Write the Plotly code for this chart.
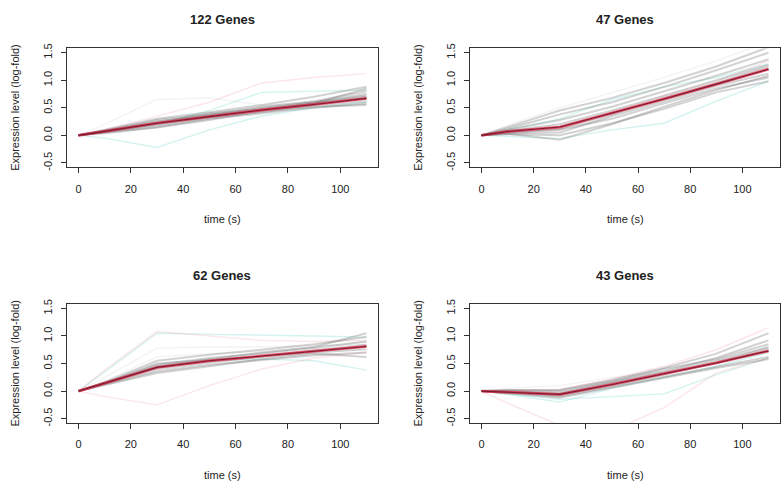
import plotly.graph_objects as go

# Sampling times (s)
times = [0, 10, 30, 50, 70, 90, 110]

# Cluster sizes shown in panel titles
titles = ["122 Genes", "47 Genes", "62 Genes", "43 Genes"]

# --- Cluster 1 (122 genes): member profiles and cluster mean ---
c1_mean = [0, 0.07, 0.22, 0.34, 0.46, 0.56, 0.67]
c1_gray = [
    [0, 0.10, 0.30, 0.42, 0.55, 0.70, 0.88],
    [0, 0.05, 0.15, 0.30, 0.40, 0.50, 0.58],
    [0, 0.08, 0.28, 0.38, 0.52, 0.62, 0.80],
    [0, 0.06, 0.18, 0.32, 0.42, 0.54, 0.62],
    [0, 0.09, 0.25, 0.36, 0.50, 0.60, 0.75],
    [0, 0.04, 0.14, 0.28, 0.44, 0.52, 0.55],
    [0, 0.07, 0.24, 0.40, 0.48, 0.60, 0.72],
    [0, 0.08, 0.20, 0.33, 0.47, 0.58, 0.85],
    [0, 0.06, 0.22, 0.37, 0.45, 0.57, 0.70],
]
c1_cyan = [
    [0, 0.06, 0.20, 0.45, 0.78, 0.80, 0.82],
    [0, -0.05, -0.22, 0.10, 0.35, 0.50, 0.60],
]
c1_pink = [
    [0, 0.10, 0.35, 0.60, 0.95, 1.05, 1.12],
]
c1_faint = [
    [0, 0.20, 0.65, 0.68, 0.55, 0.60, 0.70],
]

# --- Cluster 2 (47 genes) ---
c2_mean = [0, 0.07, 0.15, 0.40, 0.66, 0.93, 1.20]
c2_gray = [
    [0, 0.15, 0.45, 0.68, 0.95, 1.25, 1.60],
    [0, 0.12, 0.38, 0.60, 0.88, 1.18, 1.50],
    [0, 0.10, 0.28, 0.52, 0.80, 1.08, 1.38],
    [0, 0.05, 0.10, 0.30, 0.58, 0.85, 1.05],
    [0, 0.02, 0.00, 0.22, 0.48, 0.78, 0.98],
    [0, 0.08, 0.20, 0.45, 0.72, 1.00, 1.28],
    [0, 0.04, 0.05, 0.35, 0.62, 0.90, 1.12],
    [0, 0.06, 0.12, 0.38, 0.68, 0.95, 1.25],
    [0, 0.03, -0.08, 0.20, 0.52, 0.82, 1.08],
]
c2_cyan = [
    [0, 0.10, 0.30, 0.65, 0.88, 1.05, 1.30],
    [0, -0.02, -0.06, 0.10, 0.22, 0.62, 0.98],
]
c2_pink = [
    [0, 0.05, 0.10, 0.42, 0.72, 0.98, 1.35],
]
c2_faint = [
    [0, 0.18, 0.50, 0.78, 1.05, 1.35, 1.70],
]

# --- Cluster 3 (62 genes) ---
c3_mean = [0, 0.14, 0.43, 0.55, 0.64, 0.72, 0.81]
c3_gray = [
    [0, 0.16, 0.55, 0.66, 0.75, 0.85, 0.98],
    [0, 0.12, 0.36, 0.48, 0.56, 0.65, 0.70],
    [0, 0.15, 0.48, 0.60, 0.68, 0.78, 0.90],
    [0, 0.11, 0.33, 0.45, 0.58, 0.68, 0.62],
    [0, 0.13, 0.40, 0.52, 0.62, 0.70, 0.76],
    [0, 0.14, 0.45, 0.58, 0.70, 0.80, 1.05],
    [0, 0.15, 0.50, 0.56, 0.63, 0.74, 0.84],
]
c3_cyan = [
    [0, 0.35, 1.05, 1.03, 1.02, 1.00, 0.98],
    [0, 0.14, 0.45, 0.55, 0.58, 0.55, 0.38],
]
c3_pink = [
    [0, 0.38, 1.08, 1.00, 0.92, 0.90, 0.92],
    [0, -0.10, -0.25, 0.10, 0.40, 0.60, 0.70],
]
c3_faint = [
    [0, 0.25, 0.78, 0.80, 0.80, 0.82, 0.85],
    [0, 0.18, 0.62, 0.68, 0.72, 0.80, 0.90],
]

# --- Cluster 4 (43 genes) ---
c4_mean = [0, -0.02, -0.06, 0.12, 0.31, 0.51, 0.73]
c4_gray = [
    [0, 0.02, 0.02, 0.20, 0.42, 0.68, 1.05],
    [0, 0.00, -0.03, 0.16, 0.36, 0.60, 0.92],
    [0, -0.03, -0.10, 0.08, 0.26, 0.45, 0.62],
    [0, -0.04, -0.12, 0.06, 0.24, 0.42, 0.58],
    [0, 0.01, 0.00, 0.18, 0.40, 0.58, 0.85],
    [0, -0.02, -0.08, 0.10, 0.30, 0.52, 0.78],
    [0, -0.01, -0.05, 0.14, 0.34, 0.55, 0.80],
]
c4_cyan = [
    [0, -0.05, -0.15, -0.10, -0.05, 0.30, 0.60],
    [0, -0.06, -0.20, 0.05, 0.25, 0.45, 0.70],
]
c4_pink = [
    [0, -0.22, -0.62, -0.72, -0.30, 0.33, 0.60],
    [0, 0.02, 0.03, 0.22, 0.45, 0.75, 1.15],
]
c4_faint = [
    [0, 0.05, 0.10, 0.25, 0.35, 0.50, 0.70],
]

clusters = [
    (c1_mean, c1_gray, c1_cyan, c1_pink, c1_faint),
    (c2_mean, c2_gray, c2_cyan, c2_pink, c2_faint),
    (c3_mean, c3_gray, c3_cyan, c3_pink, c3_faint),
    (c4_mean, c4_gray, c4_cyan, c4_pink, c4_faint),
]

x_ticks = [0, 20, 40, 60, 80, 100]
y_ticks = [-0.5, 0.0, 0.5, 1.0, 1.5]
y_tick_text = ["-0.5", "0.0", "0.5", "1.0", "1.5"]

W, H = 783, 489
# plot boxes in pixels: (left, right, top, bottom)
boxes = [(67, 378, 44, 165), (470, 780, 44, 165),
         (67, 378, 304, 425), (470, 780, 304, 425)]

FONT = "Liberation Sans, Arial, sans-serif"
INK = "#222222"

fig = go.Figure()
layout = dict(
    width=W, height=H,
    margin=dict(l=0, r=0, t=0, b=0),
    paper_bgcolor="white", plot_bgcolor="white",
    showlegend=False,
    font=dict(family=FONT, size=11, color=INK),
)
annotations = []

for i, (mean, gray, cyan, pink, faint) in enumerate(clusters):
    n = i + 1
    xa = "x" if n == 1 else f"x{n}"
    ya = "y" if n == 1 else f"y{n}"
    l, r, t, b = boxes[i]

    def add(ys, color, width):
        fig.add_trace(go.Scatter(x=times, y=ys, mode="lines", xaxis=xa, yaxis=ya,
                                 line=dict(color=color, width=width),
                                 hoverinfo="skip"))

    for ys in faint:
        add(ys, "rgba(170,170,170,0.14)", 1.3)
    for ys in cyan:
        add(ys, "rgba(110,215,205,0.30)", 1.4)
    for ys in pink:
        add(ys, "rgba(240,140,160,0.22)", 1.4)
    for ys in gray:
        add(ys, "rgba(105,105,105,0.30)", 2.0)
    add(mean, "rgba(225,40,75,0.80)", 2.8)
    add(mean, "#7a1c2c", 1.1)

    dom_x = [l / W, r / W]
    dom_y = [1 - b / H, 1 - t / H]
    axis_common = dict(showline=True, mirror=True, linecolor="#333333", linewidth=1,
                       ticks="outside", ticklen=5, tickcolor="#333333",
                       showgrid=False, zeroline=False,
                       tickfont=dict(family=FONT, size=11, color=INK))
    layout["xaxis" if n == 1 else f"xaxis{n}"] = dict(
        domain=dom_x, anchor=ya, range=[-4.4, 114.4],
        tickvals=x_ticks, ticklabelstandoff=6, **axis_common)
    layout["yaxis" if n == 1 else f"yaxis{n}"] = dict(
        domain=dom_y, anchor=xa, range=[-0.58, 1.58],
        tickvals=y_ticks, ticktext=y_tick_text, tickangle=-90,
        ticklabelstandoff=5, **axis_common)

    cx = (l + r) / 2 / W
    annotations.append(dict(text=f"<b>{titles[i]}</b>", x=cx, y=1 - (t - 29) / H,
                            xref="paper", yref="paper", showarrow=False,
                            xanchor="center", yanchor="middle",
                            font=dict(family=FONT, size=13, color=INK)))
    annotations.append(dict(text="time (s)", x=cx, y=1 - (b + 53) / H,
                            xref="paper", yref="paper", showarrow=False,
                            xanchor="center", yanchor="middle",
                            font=dict(family=FONT, size=11, color=INK)))
    annotations.append(dict(text="Expression level (log-fold)", x=(l - 52) / W,
                            y=1 - (t + b) / 2 / H, textangle=-90,
                            xref="paper", yref="paper", showarrow=False,
                            xanchor="center", yanchor="middle",
                            font=dict(family=FONT, size=11, color=INK)))

layout["annotations"] = annotations
fig.update_layout(**layout)
fig.write_html("out.html")
